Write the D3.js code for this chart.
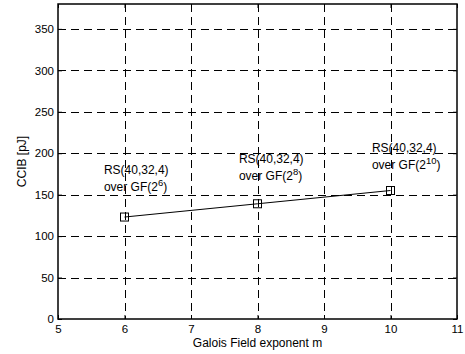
<!DOCTYPE html>
<html>
<head>
<meta charset="utf-8">
<script src="https://cdn.jsdelivr.net/npm/d3@7"></script>
<style>
  body { margin: 0; background: #fff; }
  text { font-family: "Liberation Sans", Arial, sans-serif; fill: #000; }
</style>
</head>
<body>
<div id="chart"></div>
<script>
// values
const exponents = [6, 8, 10];
const ccib = [123, 139, 155];

// annotation text next to each point
const noteX = [5.69, 7.72, 9.72];
const noteY = [175, 188, 202];
const noteCode = ['RS(40,32,4)', 'RS(40,32,4)', 'RS(40,32,4)'];
const notePower = ['6', '8', '10'];

const xTicks = [5, 6, 7, 8, 9, 10, 11];
const yTicks = [0, 50, 100, 150, 200, 250, 300, 350];

const width = 465, height = 354;
const margin = { top: 4, right: 8, bottom: 35, left: 58 };
const w = width - margin.left - margin.right;
const h = height - margin.top - margin.bottom;

const svg = d3.select('#chart').append('svg')
    .attr('width', width)
    .attr('height', height);

const g = svg.append('g')
    .attr('transform', `translate(${margin.left},${margin.top})`);

const x = d3.scaleLinear().domain([5, 11]).range([0, w]);
const y = d3.scaleLinear().domain([0, 380]).range([h, 0]);

// dashed grid
g.append('g').selectAll('line')
    .data(xTicks.slice(1, -1))
    .join('line')
    .attr('x1', d => Math.round(x(d)) + 0.5)
    .attr('x2', d => Math.round(x(d)) + 0.5)
    .attr('y1', 0)
    .attr('y2', h)
    .attr('stroke', '#000')
    .attr('stroke-dasharray', '8,5');

g.append('g').selectAll('line')
    .data(yTicks.slice(1))
    .join('line')
    .attr('y1', d => Math.round(y(d)) + 0.5)
    .attr('y2', d => Math.round(y(d)) + 0.5)
    .attr('x1', 0)
    .attr('x2', w)
    .attr('stroke', '#000')
    .attr('stroke-dasharray', '8,5');

// axes with inward ticks
const fmt = d3.format('d');
g.append('g')
    .attr('transform', `translate(0,${h})`)
    .call(d3.axisBottom(x).tickValues(xTicks).tickSize(-4).tickPadding(6).tickFormat(fmt));
g.append('g')
    .call(d3.axisLeft(y).tickValues(yTicks).tickSize(-4).tickPadding(4).tickFormat(fmt));
g.append('g')
    .call(d3.axisTop(x).tickValues(xTicks).tickSize(-4).tickFormat(''));
g.append('g')
    .attr('transform', `translate(${w},0)`)
    .call(d3.axisRight(y).tickValues(yTicks).tickSize(-4).tickFormat(''));

g.selectAll('.domain').remove();
g.selectAll('.tick line').attr('stroke', '#000');
g.selectAll('.tick text')
    .style('font-family', '"Liberation Sans", Arial, sans-serif')
    .style('font-size', '11.5px')
    .attr('fill', '#000');

// box
g.append('rect')
    .attr('x', 0)
    .attr('y', 0)
    .attr('width', w)
    .attr('height', h)
    .attr('fill', 'none')
    .attr('stroke', '#000')
    .attr('stroke-width', 1.5);

// line + square markers
const pts = exponents.map((m, i) => ({ m: m, v: ccib[i] }));

g.append('path')
    .datum(pts)
    .attr('fill', 'none')
    .attr('stroke', '#000')
    .attr('stroke-width', 1)
    .attr('d', d3.line().x(d => x(d.m)).y(d => y(d.v)));

g.selectAll('.marker')
    .data(pts)
    .join('rect')
    .attr('class', 'marker')
    .attr('x', d => x(d.m) - 4)
    .attr('y', d => y(d.v) - 4)
    .attr('width', 8)
    .attr('height', 8)
    .attr('fill', 'none')
    .attr('stroke', '#000');

// annotations
const notes = g.selectAll('.note')
    .data(noteX.map((v, i) => ({ x: v, y: noteY[i], code: noteCode[i], p: notePower[i] })))
    .join('g')
    .attr('class', 'note')
    .attr('transform', d => `translate(${x(d.x)},${y(d.y)})`)
    .style('font-size', '12px');

notes.append('text')
    .attr('y', 0)
    .text(d => d.code);

const second = notes.append('text')
    .attr('y', 17);
second.append('tspan').text('over GF(2');
second.append('tspan')
    .attr('dy', -5)
    .style('font-size', '9.5px')
    .text(d => d.p);
second.append('tspan')
    .attr('dy', 5)
    .text(')');

// axis titles
svg.append('text')
    .attr('x', margin.left + w / 2)
    .attr('y', 347)
    .attr('text-anchor', 'middle')
    .style('font-size', '12px')
    .text('Galois Field exponent m');

svg.append('text')
    .attr('transform', `translate(26,${margin.top + h / 2}) rotate(-90)`)
    .attr('text-anchor', 'middle')
    .style('font-size', '12px')
    .text('CCIB [pJ]');
</script>
</body>
</html>
